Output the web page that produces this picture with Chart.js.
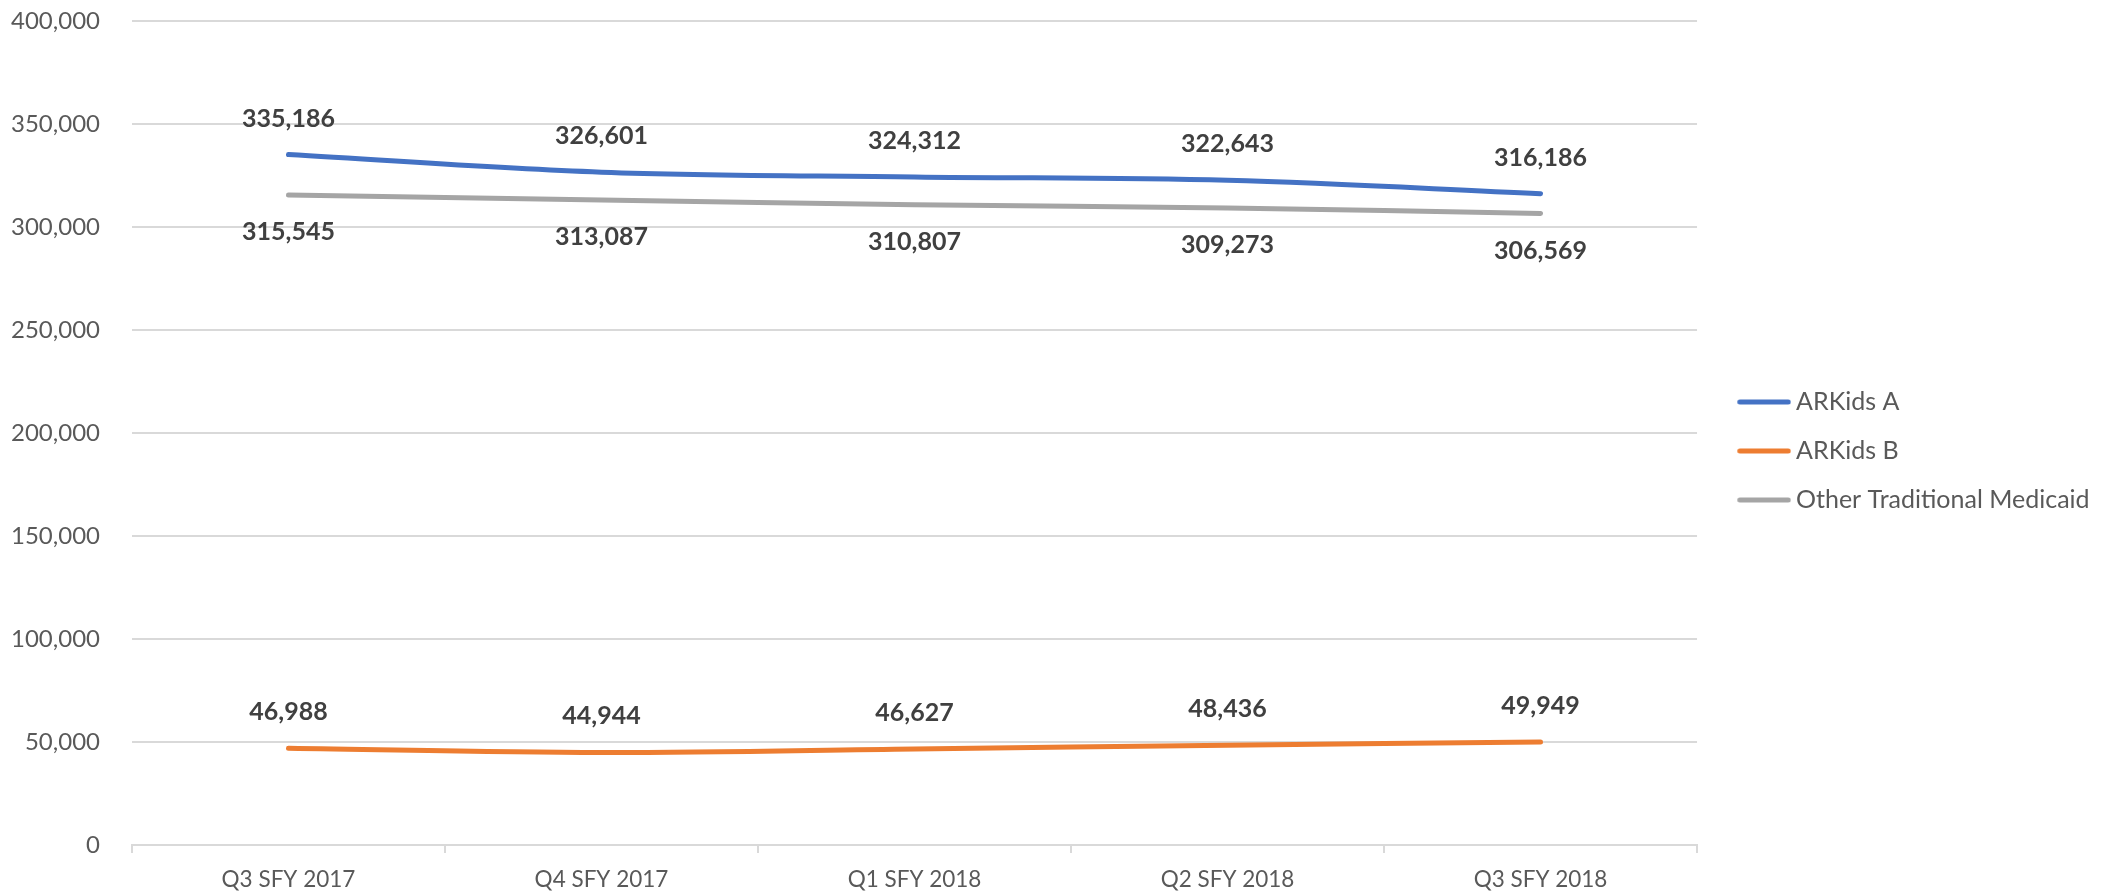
<!DOCTYPE html>
<html>
<head>
<meta charset="utf-8">
<script src="https://cdn.jsdelivr.net/npm/chart.js@4.4.1/dist/chart.umd.min.js"></script>
<style>
  html, body { margin: 0; padding: 0; background: #ffffff; }
  #wrap { width: 2116px; height: 891px; position: relative; }
</style>
</head>
<body>
<div id="wrap"><canvas id="c"></canvas></div>
<script>
const categories = ['Q3 SFY 2017', 'Q4 SFY 2017', 'Q1 SFY 2018', 'Q2 SFY 2018', 'Q3 SFY 2018'];
const arkidsA = [335186, 326601, 324312, 322643, 316186];
const arkidsB = [46988, 44944, 46627, 48436, 49949];
const otherTraditional = [315545, 313087, 310807, 309273, 306569];
const yTicks = [0, 50000, 100000, 150000, 200000, 250000, 300000, 350000, 400000];

const FONT = 'Lato, "Open Sans", sans-serif';
const fmt = v => v.toLocaleString('en-US');

// legend swatch: a short thick line, drawn as a point-style image
function swatch(color) {
  const c = document.createElement('canvas');
  c.width = 78; c.height = 8;
  const g = c.getContext('2d');
  g.strokeStyle = color; g.lineWidth = 5; g.lineCap = 'round';
  g.beginPath(); g.moveTo(26.5, 4); g.lineTo(75, 4); g.stroke();
  return c;
}

const labelPlugin = {
  id: 'valueLabels',
  afterDatasetsDraw(chart) {
    const ctx = chart.ctx;
    ctx.save();
    ctx.font = 'bold 25px ' + FONT;
    ctx.fillStyle = '#404040';
    ctx.textAlign = 'center';
    ctx.textBaseline = 'middle';
    chart.data.datasets.forEach((ds, i) => {
      const meta = chart.getDatasetMeta(i);
      meta.data.forEach((pt, j) => {
        const off = ds.labelPos === 'below' ? 37 : -36;
        ctx.fillText(fmt(ds.data[j]), pt.x, pt.y + off);
      });
    });
    ctx.restore();
  }
};

new Chart(document.getElementById('c'), {
  type: 'line',
  data: {
    labels: categories,
    datasets: [
      { label: 'ARKids A', data: arkidsA, borderColor: '#4472C4', backgroundColor: '#4472C4', labelPos: 'above' },
      { label: 'ARKids B', data: arkidsB, borderColor: '#ED7D31', backgroundColor: '#ED7D31', labelPos: 'above' },
      { label: 'Other Traditional Medicaid', data: otherTraditional, borderColor: '#A5A5A5', backgroundColor: '#A5A5A5', labelPos: 'below' }
    ]
  },
  options: {
    responsive: true,
    maintainAspectRatio: false,
    animation: false,
    elements: {
      line: { borderWidth: 5, tension: 0.35, borderCapStyle: 'round', borderJoinStyle: 'round' },
      point: { radius: 0, hoverRadius: 0 }
    },
    layout: { padding: { top: 21, right: 16.4, left: 9, bottom: -14.5 } },
    plugins: {
      tooltip: { enabled: false },
      legend: {
        position: 'right',
        align: 'start',
        title: { display: true, text: ' ', font: { size: 1, lineHeight: 1 }, padding: { top: 0, bottom: 343.5 } },
        labels: {
          usePointStyle: true,
          pointStyleWidth: 62.5,
          color: '#595959',
          font: { family: FONT, size: 25 },
          padding: 24,
          generateLabels(ch) {
            const items = Chart.defaults.plugins.legend.labels.generateLabels(ch);
            items.forEach(it => { it.pointStyle = swatch(ch.data.datasets[it.datasetIndex].borderColor); });
            return items;
          }
        }
      }
    },
    scales: {
      x: {
        offset: true,
        grid: { offset: true, drawOnChartArea: false, drawTicks: true, tickLength: 8, color: '#d9d9d9', lineWidth: 2 },
        border: { color: '#d9d9d9', width: 2 },
        ticks: { color: '#595959', font: { family: FONT, size: 22.5, lineHeight: 1.0 }, padding: 15, maxRotation: 0 }
      },
      y: {
        min: 0,
        max: 400000,
        afterBuildTicks(axis) { axis.ticks = yTicks.map(v => ({ value: v })); },
        grid: { color: '#d9d9d9', lineWidth: 2, drawTicks: true, tickLength: 30, tickColor: 'rgba(0,0,0,0)' },
        border: { display: false },
        ticks: { color: '#595959', font: { family: FONT, size: 24 }, padding: 2, callback: v => fmt(v) }
      }
    }
  },
  plugins: [labelPlugin]
});
</script>
</body>
</html>
